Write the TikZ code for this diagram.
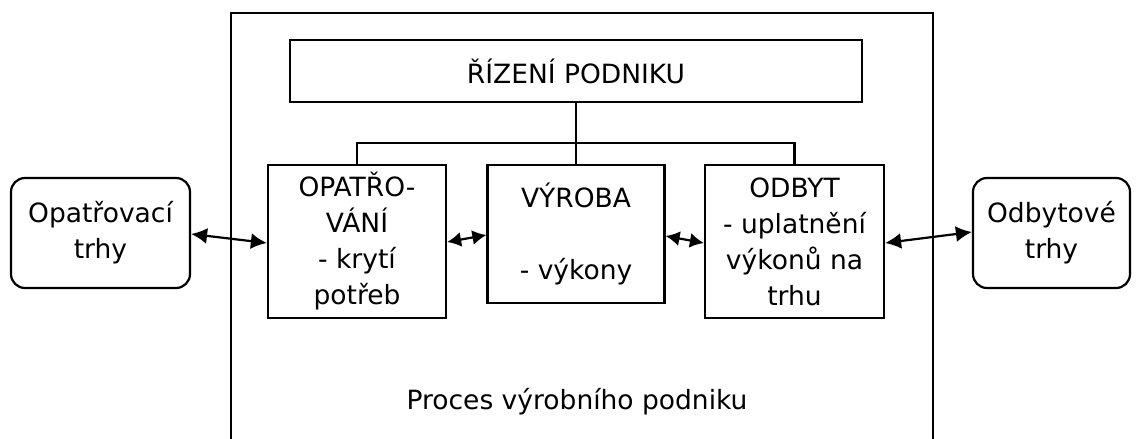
\documentclass[tikz,border=0pt]{standalone}
\usepackage{fontspec}
\setmainfont{DejaVu Sans}
\usetikzlibrary{arrows.meta}
\begin{document}
\begin{tikzpicture}[x=1pt,y=-1pt,
  every node/.style={font=\fontsize{26.5}{36}\selectfont},
  box/.style={draw, line width=2.2pt, align=center, inner sep=0pt},
  rbox/.style={box, rounded corners=14pt},
  ln/.style={line width=2.2pt},
  arr/.style={line width=2.2pt, {Latex[length=16pt,width=16pt]}-{Latex[length=16pt,width=16pt]}},
  sarr/.style={line width=2.2pt, {Latex[length=14pt,width=15pt]}-{Latex[length=14pt,width=15pt]}}]
\useasboundingbox (0,0) rectangle (1138,439);
\fill[white] (0,0) rectangle (1138,439);
% outer frame
\coordinate (fbl) at (231,440);
\coordinate (ftl) at (231,13);
\coordinate (ftr) at (933,13);
\coordinate (fbr) at (933,440);
\draw[ln] (fbl) -- (ftl) -- (ftr) -- (fbr);
% boxes
\node[box, minimum width=572pt, minimum height=62pt] (riz) at (576,71) {ŘÍZENÍ PODNIKU};
\node[box, minimum width=178pt, minimum height=153pt] (op) at (357,241.5) {OPATŘO-\\VÁNÍ\\- krytí\\potřeb};
\node[box, minimum width=177pt, minimum height=138pt] (vy) at (576,234) {VÝROBA\\\strut\\- výkony};
\node[box, minimum width=179pt, minimum height=153pt] (od) at (794.5,241.5) {ODBYT\\- uplatnění\\výkonů na\\trhu};
\node[rbox, minimum width=179pt, minimum height=110pt] (ot) at (100.5,233) {Opatřovací\\trhy};
\node[rbox, minimum width=157pt, minimum height=110pt] (dt) at (1051.5,233) {Odbytové\\trhy};
\node (proc) at (577,402) {Proces výrobního podniku};
% tree connectors
\coordinate (hb) at (576,143);
\draw[ln] (riz.south) -- (vy.north);
\draw[ln] (op.north) |- (hb) -| (od.north);
% arrows
\draw[arr] (ot.east |- 0,234) -- (op.west |- 0,243);
\draw[sarr] (op.east |- 0,242) -- (vy.west |- 0,235);
\draw[sarr] (vy.east |- 0,236) -- (od.west |- 0,243);
\draw[arr] (od.east |- 0,243) -- (dt.west |- 0,232);
\end{tikzpicture}
\end{document}
